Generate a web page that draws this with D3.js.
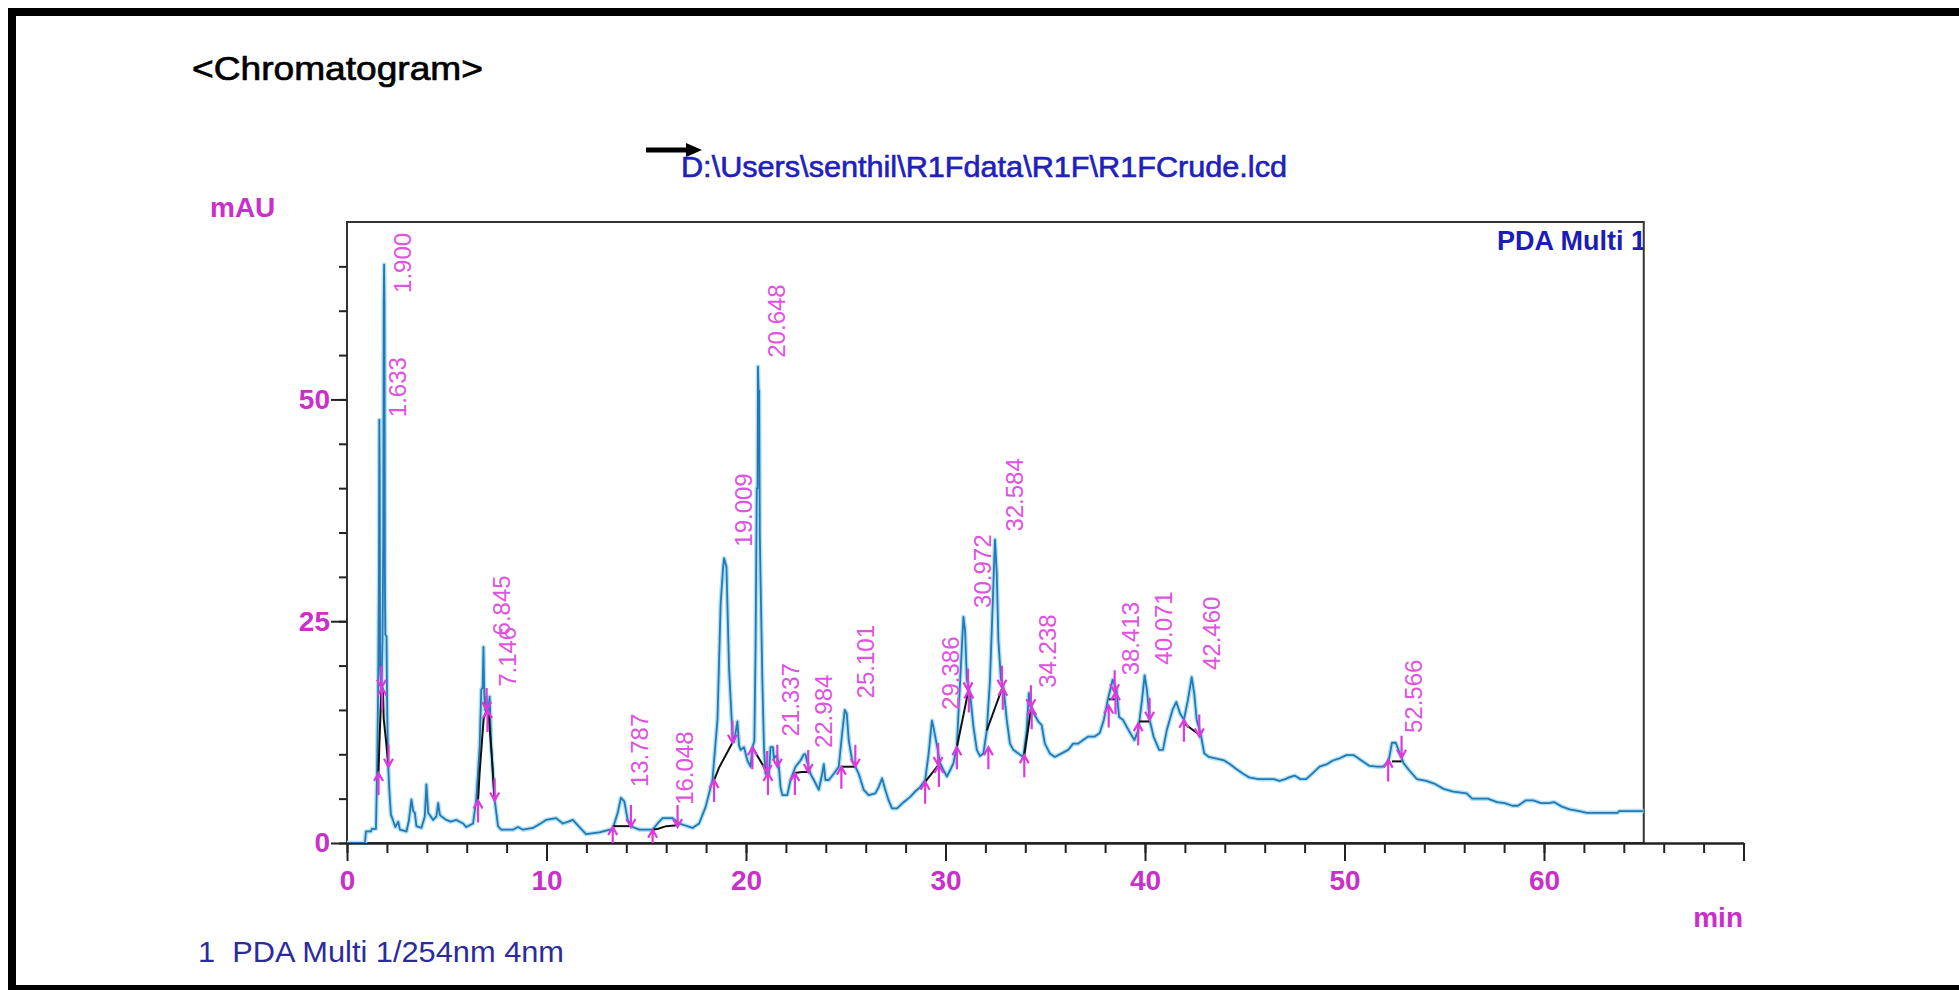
<!DOCTYPE html>
<html><head><meta charset="utf-8">
<script src="https://cdn.jsdelivr.net/npm/d3@7"></script>
<style>body{margin:0;background:#fff;} svg{display:block;font-family:"Liberation Sans",Arial,sans-serif;}</style>
</head><body>
<svg id="c" width="1959" height="990"></svg>
<script>
// ---- data ----
const times = [0.00,0.90,0.95,1.20,1.25,1.45,1.50,1.56,1.60,1.62,1.64,1.66,1.72,1.78,1.82,1.84,1.86,1.88,1.90,1.92,1.98,2.02,2.06,2.12,2.20,2.30,2.42,2.57,2.65,2.98,3.10,3.23,3.32,3.40,3.48,3.73,3.90,3.98,4.07,4.32,4.48,4.57,4.65,4.73,4.98,5.20,5.48,5.82,5.98,6.32,6.48,6.65,6.73,6.80,6.84,6.88,6.92,6.98,7.07,7.15,7.23,7.40,7.57,7.73,8.32,8.57,8.82,9.32,9.70,9.98,10.48,10.82,11.10,11.32,11.65,11.98,12.65,13.32,13.57,13.73,13.90,14.07,14.32,14.65,15.32,15.57,15.82,16.32,16.65,17.32,17.65,17.98,18.32,18.57,18.73,18.85,18.90,19.02,19.15,19.32,19.40,19.48,19.57,19.65,19.73,19.90,20.07,20.23,20.32,20.42,20.48,20.54,20.58,20.60,20.63,20.66,20.69,20.73,20.82,20.90,20.98,21.15,21.23,21.35,21.40,21.48,21.56,21.65,21.73,21.82,22.07,22.23,22.48,22.73,22.90,22.98,23.05,23.23,23.40,23.65,23.82,23.90,23.98,24.15,24.40,24.65,24.82,24.95,25.05,25.15,25.32,25.48,25.65,25.90,26.15,26.48,26.65,26.82,26.98,27.15,27.32,27.57,27.90,28.23,28.48,28.73,28.98,29.15,29.32,29.40,29.57,29.73,29.90,30.07,30.23,30.40,30.57,30.65,30.82,30.90,30.98,31.07,31.23,31.40,31.57,31.73,31.90,32.07,32.23,32.35,32.48,32.57,32.65,32.78,32.90,33.07,33.23,33.40,33.65,33.90,34.07,34.18,34.32,34.48,34.65,34.82,34.98,35.23,35.48,35.82,36.15,36.40,36.65,36.90,37.15,37.48,37.73,37.94,38.13,38.38,38.57,38.70,38.89,39.18,39.47,39.66,39.85,39.98,40.10,40.23,40.43,40.71,40.90,41.09,41.38,41.57,41.76,41.95,42.15,42.34,42.47,42.59,42.78,42.97,43.20,43.58,43.97,44.25,44.54,44.92,45.21,45.69,46.45,46.74,47.03,47.22,47.50,47.79,48.08,48.37,48.75,49.13,49.42,49.71,50.09,50.47,50.85,51.24,51.62,51.90,52.19,52.38,52.57,52.77,52.96,53.24,53.63,54.10,54.49,54.97,55.45,56.12,56.40,57.17,57.65,58.03,58.41,58.70,59.08,59.47,59.85,60.23,60.52,60.90,61.28,61.76,62.15,63.68,63.77,65.00];
const absorbance = [0.0,0.0,1.3,1.3,1.6,1.6,7.0,17.0,30.0,47.7,40.6,20.0,17.0,23.0,35.0,60.5,65.2,60.5,30.0,23.5,23.3,14.0,9.0,6.0,3.2,2.6,1.8,2.4,1.5,1.3,2.5,4.9,3.6,3.4,1.9,1.7,3.0,6.6,3.4,2.6,3.0,4.5,3.2,3.0,2.6,2.4,2.6,2.2,1.8,2.2,4.9,10.9,17.3,17.5,22.1,17.0,15.0,16.5,14.6,16.5,10.9,4.9,1.9,1.5,1.5,1.8,1.5,1.7,2.2,2.6,2.8,2.2,2.4,2.6,1.8,1.0,1.2,1.6,3.4,5.1,4.7,2.6,1.8,1.5,1.5,2.2,2.8,2.8,2.2,1.7,2.2,4.1,7.1,13.9,27.0,31.0,32.1,31.1,19.7,12.2,11.4,12.5,13.7,11.0,10.5,10.8,9.3,8.6,10.8,11.5,22.1,40.0,40.0,53.7,51.0,51.0,35.0,29.6,18.4,10.8,7.8,7.8,10.8,10.8,9.5,9.8,9.8,8.5,6.3,5.4,5.4,7.1,8.6,9.3,10.0,10.0,9.3,7.8,7.1,6.0,7.8,8.9,7.1,7.1,7.8,8.6,12.4,15.0,14.6,11.6,9.3,8.6,7.8,6.0,5.4,5.6,6.3,7.3,6.0,4.8,3.9,3.9,4.6,5.2,5.8,6.3,7.1,10.0,13.8,13.0,11.0,9.0,8.2,7.5,8.2,9.0,10.9,14.6,22.1,25.5,24.0,18.4,16.9,13.1,10.5,9.8,10.1,12.7,18.4,25.9,34.2,30.4,22.9,18.4,17.6,13.9,11.2,10.5,10.1,9.7,12.7,16.9,15.0,14.4,13.7,13.3,11.2,10.1,9.7,10.1,10.5,11.2,11.2,11.6,12.0,12.0,12.4,13.9,16.1,18.4,17.3,14.2,13.9,12.7,11.6,12.7,16.1,18.9,17.2,13.9,12.0,10.5,10.5,12.7,15.0,15.9,14.6,13.9,16.1,18.7,16.8,13.9,12.4,10.1,9.7,9.5,9.3,8.9,8.4,7.8,7.4,7.2,7.2,7.0,7.2,7.4,7.6,7.2,7.2,7.8,8.6,8.9,9.3,9.5,9.9,9.9,9.3,8.7,8.6,8.6,9.0,11.3,11.3,10.1,9.0,8.2,7.2,7.0,6.7,6.1,5.8,5.6,5.0,5.0,4.6,4.5,4.2,4.2,4.8,4.8,4.5,4.5,4.6,4.1,3.8,3.6,3.4,3.4,3.6,3.6];

const peakRT = [1.633,1.900,6.845,7.146,13.787,16.048,19.009,20.648,21.337,22.984,25.101,29.386,30.972,32.584,34.238,38.413,40.071,42.460,52.566];
const peakLabelLevel = [48.0,62.0,23.4,17.6,6.3,4.3,33.4,54.7,12.0,10.7,16.3,15.0,26.5,35.1,17.5,18.9,20.1,19.5,12.4];

const markerRT    = [1.58,1.73,1.76,2.08,6.57,7.00,7.04,7.40,13.32,14.23,15.32,16.57,18.40,19.32,20.32,21.06,21.10,21.57,22.45,23.12,24.78,25.48,28.98,29.63,29.67,30.57,31.13,31.17,32.15,32.83,32.87,33.95,34.28,34.32,38.18,38.48,38.52,39.66,40.23,41.95,42.72,52.19,52.86];
const markerLevel = [7.9,17.5,17.5,8.6,4.8,15.0,15.0,4.8,1.8,1.8,1.5,1.8,7.1,11.3,10.8,7.9,7.9,8.6,7.9,8.0,8.6,8.6,6.9,8.8,8.8,10.8,17.2,17.2,10.8,17.5,17.5,9.9,15.3,15.3,15.5,17.0,17.0,13.5,13.9,13.9,12.0,9.4,9.6];
const markerDir   = ["up","down","up","down","up","down","up","down","up","down","up","down","up","down","up","down","up","down","up","down","up","down","up","down","up","up","down","up","up","down","up","up","down","up","up","down","up","up","down","up","down","up","down"];

const integrationBaselines = [
  [[1.58,7.9],[1.62,11],[1.72,17],[1.80,17.5],[1.84,14],[1.98,11],[2.08,8.6]],
  [[6.57,4.8],[6.65,8],[6.85,14],[7.0,15],[7.1,14.5],[7.25,10],[7.4,4.8]],
  [[13.32,1.9],[14.23,1.9]],
  [[15.32,1.5],[15.6,1.6],[16.0,1.9],[16.57,2.0]],
  [[18.4,7.1],[18.65,8.5],[19.32,11.3]],
  [[20.32,10.8],[21.07,7.9]],
  [[22.45,7.9],[22.8,8.0],[23.12,8.0]],
  [[24.78,8.6],[25.48,8.6]],
  [[28.98,6.9],[29.65,8.8]],
  [[30.57,10.8],[31.15,17.2]],
  [[32.07,12.7],[32.85,17.5]],
  [[33.95,9.9],[34.3,15.3]],
  [[38.2,16.2],[38.5,16.2]],
  [[39.72,13.7],[40.2,13.7]],
  [[41.95,13.5],[42.72,12.2]],
  [[52.38,9.2],[52.86,9.2]]
];

const xMajorTicks = [0,10,20,30,40,50,60,70];
const xMinorTicks = d3.range(0,71,2);
const xTickLabels = ["0","10","20","30","40","50","60",""];
const yMajorTicks = [0,25,50];
const yMinorTicks = d3.range(0,66,5);
const yTickLabels = ["0","25","50"];

// ---- drawing ----
const svg = d3.select("#c");
const magenta = "#c930c9";
const x = d3.scaleLinear().domain([0,70]).range([347,1743.5]);
const y = d3.scaleLinear().domain([0,70]).range([843,222]);
const plotEndT = 65;

// outer frame
svg.append("rect").attr("x",12).attr("y",12).attr("width",2100).attr("height",977)
  .attr("fill","none").attr("stroke","#000").attr("stroke-width",8);

// title
svg.append("text").attr("x",192).attr("y",80).attr("font-size",34)
  .attr("textLength",291).attr("lengthAdjust","spacingAndGlyphs")
  .attr("fill","#000").attr("stroke","#000").attr("stroke-width",0.7).text("<Chromatogram>");

// arrow
svg.append("line").attr("x1",646).attr("y1",150).attr("x2",690).attr("y2",150)
  .attr("stroke","#000").attr("stroke-width",5);
svg.append("path").attr("d","M686,143 L702,150 L686,157 Z").attr("fill","#000");

// file path
svg.append("text").attr("x",681).attr("y",177).attr("font-size",29)
  .attr("textLength",606).attr("lengthAdjust","spacingAndGlyphs")
  .attr("fill","#2020bc").attr("stroke","#2020bc").attr("stroke-width",0.6)
  .text("D:\\Users\\senthil\\R1Fdata\\R1F\\R1FCrude.lcd");

// mAU
svg.append("text").attr("x",210).attr("y",217).attr("font-size",28).attr("font-weight","bold")
  .attr("fill",magenta).text("mAU");

// clip
svg.append("clipPath").attr("id","plotclip").append("rect")
  .attr("x",x(0)).attr("y",y(70)).attr("width",x(plotEndT)-x(0)).attr("height",y(0)-y(70));

// plot frame
svg.append("rect").attr("x",x(0)).attr("y",y(70)).attr("width",x(plotEndT)-x(0)).attr("height",y(0)-y(70))
  .attr("fill","none").attr("stroke","#333").attr("stroke-width",2);

// PDA Multi 1
svg.append("text").attr("x",1497).attr("y",250).attr("font-size",27).attr("font-weight","bold")
  .attr("fill","#1c1cb8").attr("clip-path","url(#plotclip)").text("PDA Multi 1");

// x axis
const gxMinor = svg.append("g").attr("transform",`translate(0,${y(0)})`)
  .call(d3.axisBottom(x).tickValues(xMinorTicks).tickSize(10).tickSizeOuter(0).tickFormat(""));
const gxMajor = svg.append("g").attr("transform",`translate(0,${y(0)})`)
  .call(d3.axisBottom(x).tickValues(xMajorTicks).tickSize(18).tickSizeOuter(0).tickPadding(9)
    .tickFormat((d,i)=>xTickLabels[i]));
[gxMinor,gxMajor].forEach(g=>{
  g.selectAll("line").attr("stroke","#222").attr("stroke-width",2);
  g.select(".domain").attr("stroke","#222").attr("stroke-width",2);
});
gxMajor.selectAll("text").attr("font-size",28).attr("font-weight","bold").attr("fill",magenta)
  .attr("font-family","Liberation Sans, Arial, sans-serif");

// y axis
const gyMinor = svg.append("g").attr("transform",`translate(${x(0)},0)`)
  .call(d3.axisLeft(y).tickValues(yMinorTicks).tickSize(8).tickSizeOuter(0).tickFormat(""));
const gyMajor = svg.append("g").attr("transform",`translate(${x(0)},0)`)
  .call(d3.axisLeft(y).tickValues(yMajorTicks).tickSize(16).tickSizeOuter(0).tickPadding(1)
    .tickFormat((d,i)=>yTickLabels[i]));
[gyMinor,gyMajor].forEach(g=>{
  g.selectAll("line").attr("stroke","#222").attr("stroke-width",2);
  g.select(".domain").remove();
});
gyMajor.selectAll("text").attr("font-size",28).attr("font-weight","bold").attr("fill",magenta)
  .attr("font-family","Liberation Sans, Arial, sans-serif");

// min
svg.append("text").attr("x",1743).attr("y",927).attr("text-anchor","end").attr("font-size",28)
  .attr("font-weight","bold").attr("fill",magenta).text("min");

// trace
const pts = times.map((t,i)=>[t,absorbance[i]]);
const line = d3.line().x(d=>x(d[0])).y(d=>y(d[1]));
const plot = svg.append("g").attr("clip-path","url(#plotclip)");
plot.append("path").attr("d",line(pts)).attr("fill","none")
  .attr("stroke","#aee3f3").attr("stroke-width",4.5).attr("stroke-linejoin","round");
plot.append("path").attr("d",line(pts)).attr("fill","none")
  .attr("stroke","#2876b4").attr("stroke-width",1.8).attr("stroke-linejoin","round");

// integration baselines
plot.selectAll(".bl").data(integrationBaselines).join("path").attr("class","bl")
  .attr("d",line).attr("fill","none").attr("stroke","#111").attr("stroke-width",2);

// peak start/end markers
plot.selectAll(".mk").data(markerRT).join("path").attr("class","mk")
  .attr("d",(d,i)=>{
    const px = x(d), py = y(markerLevel[i]);
    const s = markerDir[i]==="up" ? 1 : -1;
    return `M${px},${py+s*22} L${px},${py} M${px-4.5},${py+s*8} L${px},${py} L${px+4.5},${py+s*8}`;
  })
  .attr("fill","none").attr("stroke","#dc3adc").attr("stroke-width",2.2);

// peak labels
svg.selectAll(".pl").data(peakRT).join("text").attr("class","pl")
  .attr("transform",(d,i)=>`translate(${x(d)+26},${y(peakLabelLevel[i])}) rotate(-90)`)
  .attr("font-size",24).attr("fill","#e052e0").text(d=>d.toFixed(3));

// footer
svg.append("text").attr("x",198).attr("y",962).attr("font-size",30)
  .attr("textLength",366).attr("lengthAdjust","spacingAndGlyphs")
  .style("white-space","pre").attr("xml:space","preserve")
  .attr("fill","#2b2b9c").text("1  PDA Multi 1/254nm 4nm");
</script>
</body></html>
